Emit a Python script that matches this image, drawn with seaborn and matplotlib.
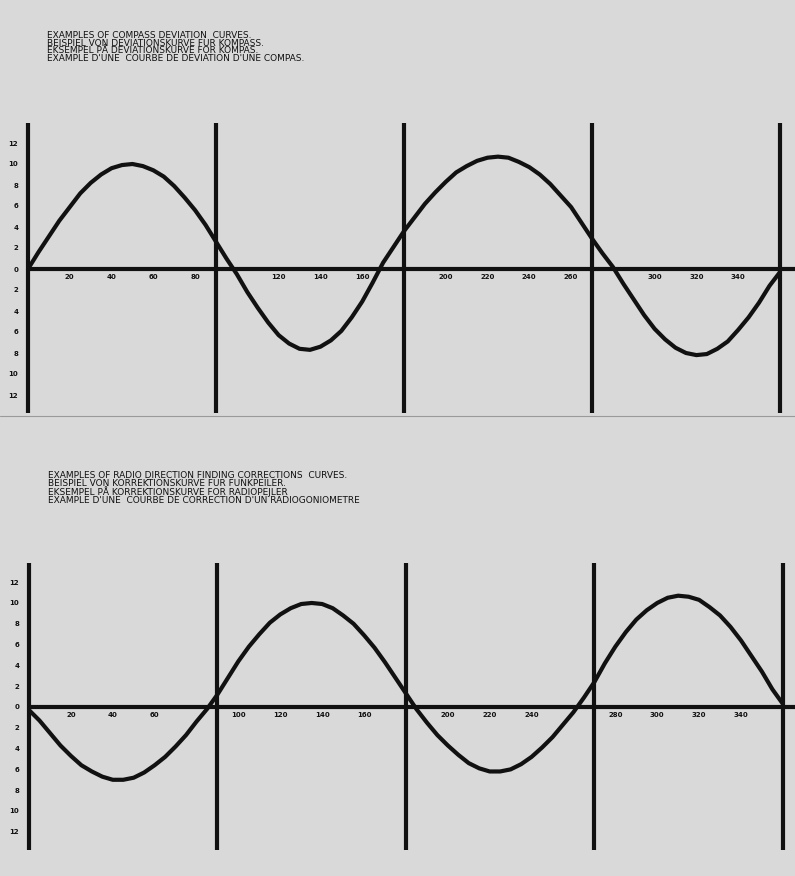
import matplotlib
matplotlib.use("Agg")
import matplotlib.pyplot as plt
from matplotlib.lines import Line2D
import pandas as pd
import seaborn as sns

# ---------------- data ----------------
headings = list(range(0, 361, 5))

compass_deviation = [0.0, 1.6, 3.1, 4.6, 5.9, 7.2, 8.2, 9.0, 9.6, 9.9,
                     10.0, 9.8, 9.4, 8.8, 7.9, 6.8, 5.6, 4.2, 2.6, 1.0,
                     -0.5, -2.2, -3.7, -5.1, -6.3, -7.1, -7.6, -7.7, -7.4, -6.8,
                     -5.9, -4.6, -3.1, -1.3, 0.6, 2.1, 3.6, 4.9, 6.2, 7.3,
                     8.3, 9.2, 9.8, 10.3, 10.6, 10.7, 10.6, 10.2, 9.7, 9.0,
                     8.1, 7.0, 5.9, 4.4, 2.9, 1.5, 0.2, -1.4, -2.9, -4.4,
                     -5.7, -6.7, -7.5, -8.0, -8.2, -8.1, -7.6, -6.9, -5.8, -4.6,
                     -3.2, -1.6, -0.3]

radio_correction = [-0.3, -1.3, -2.5, -3.7, -4.7, -5.6, -6.2, -6.7, -7.0, -7.0,
                    -6.8, -6.3, -5.6, -4.8, -3.8, -2.7, -1.4, -0.2, 1.2, 2.8,
                    4.4, 5.8, 7.0, 8.1, 8.9, 9.5, 9.9, 10.0, 9.9, 9.5,
                    8.8, 8.0, 6.9, 5.7, 4.3, 2.8, 1.3, -0.2, -1.5, -2.7,
                    -3.7, -4.6, -5.4, -5.9, -6.2, -6.2, -6.0, -5.5, -4.8, -3.9,
                    -2.9, -1.7, -0.5, 0.9, 2.4, 4.2, 5.8, 7.2, 8.4, 9.3,
                    10.0, 10.5, 10.7, 10.6, 10.3, 9.6, 8.8, 7.7, 6.4, 4.9,
                    3.4, 1.7, 0.3]

top_xtick_values = [20, 40, 60, 80, 120, 140, 160, 200, 220, 240, 260, 300, 320, 340]
bottom_xtick_values = [20, 40, 60, 100, 120, 140, 160, 200, 220, 240, 280, 300, 320, 340]
ytick_values = [12, 10, 8, 6, 4, 2, 0, -2, -4, -6, -8, -10, -12]
ytick_labels = [str(abs(v)) for v in ytick_values]
quadrant_lines = [0, 90, 180, 270, 360]

top_title = ["EXAMPLES OF COMPASS DEVIATION  CURVES.",
             "BEISPIEL VON DEVIATIONSKURVE FUR KOMPASS.",
             "EKSEMPEL PÅ DEVIATIONSKURVE FOR KOMPAS.",
             "EXAMPLE D'UNE  COURBE DE DEVIATION D'UNE COMPAS."]
bottom_title = ["EXAMPLES OF RADIO DIRECTION FINDING CORRECTIONS  CURVES.",
                "BEISPIEL VON KORREKTIONSKURVE FUR FUNKPEILER.",
                "EKSEMPEL PÅ KORREKTIONSKURVE FOR RADIOPEJLER",
                "EXAMPLE D'UNE  COURBE DE CORRECTION D'UN RADIOGONIOMETRE"]

# ---------------- figure ----------------
sns.set_style("white")
plt.rcParams['font.family'] = ['DejaVu Sans']

W, H = 795, 876
BG = '#d9d9d9'
INK = '#111111'
fig = plt.figure(figsize=(W / 100, H / 100), dpi=100, facecolor=BG)


def axes_px(left, top, right, bottom):
    return fig.add_axes([left / W, 1 - bottom / H, (right - left) / W, (bottom - top) / H])


def draw_panel(ax, values, xticks, xmax, ylim):
    ax.set_facecolor('none')
    for s in ax.spines.values():
        s.set_visible(False)
    ax.set_xlim(0, xmax)
    ax.set_ylim(*ylim)
    for q in quadrant_lines:
        ax.axvline(q, color=INK, lw=3.0, ymin=0.01, ymax=0.995, zorder=2,
                   clip_on=False, solid_capstyle='butt')
    ax.axhline(0, color=INK, lw=3.0, zorder=2, clip_on=False)
    df = pd.DataFrame({'heading': headings, 'value': values})
    sns.lineplot(data=df, x='heading', y='value', ax=ax, color=INK, lw=3.0,
                 zorder=3, legend=False)
    for ln in ax.get_lines():
        ln.set_clip_on(False)
    ax.set_xticks([])
    ax.set_yticks(ytick_values)
    ax.set_yticklabels(ytick_labels, fontsize=5, fontweight='bold', color=INK)
    ax.tick_params(axis='y', length=0, pad=7)
    for xv in xticks:
        ax.text(xv, -0.75, str(xv), ha='center', va='center', fontsize=5,
                fontweight='bold', color=INK, zorder=4)
    ax.set_xlabel('')
    ax.set_ylabel('')


ax_top = axes_px(28, 122, 795, 416)
draw_panel(ax_top, compass_deviation, top_xtick_values, 367.2, (-14.0, 14.0))

ax_bot = axes_px(29, 562, 795, 853)
draw_panel(ax_bot, radio_correction, bottom_xtick_values, 365.8, (-14.04, 13.94))

fig.text(47 / W, 1 - 31.5 / H, "\n".join(top_title), ha='left', va='top',
         fontsize=6.5, color=INK, linespacing=0.78)
fig.text(48 / W, 1 - 470.5 / H, "\n".join(bottom_title), ha='left', va='top',
         fontsize=6.5, color=INK, linespacing=0.86)

fig.add_artist(Line2D([0, 1], [1 - 416 / H, 1 - 416 / H], color='#9a9a9a', lw=0.8,
                      transform=fig.transFigure))

fig.savefig('out.png', dpi=100, facecolor=BG)
